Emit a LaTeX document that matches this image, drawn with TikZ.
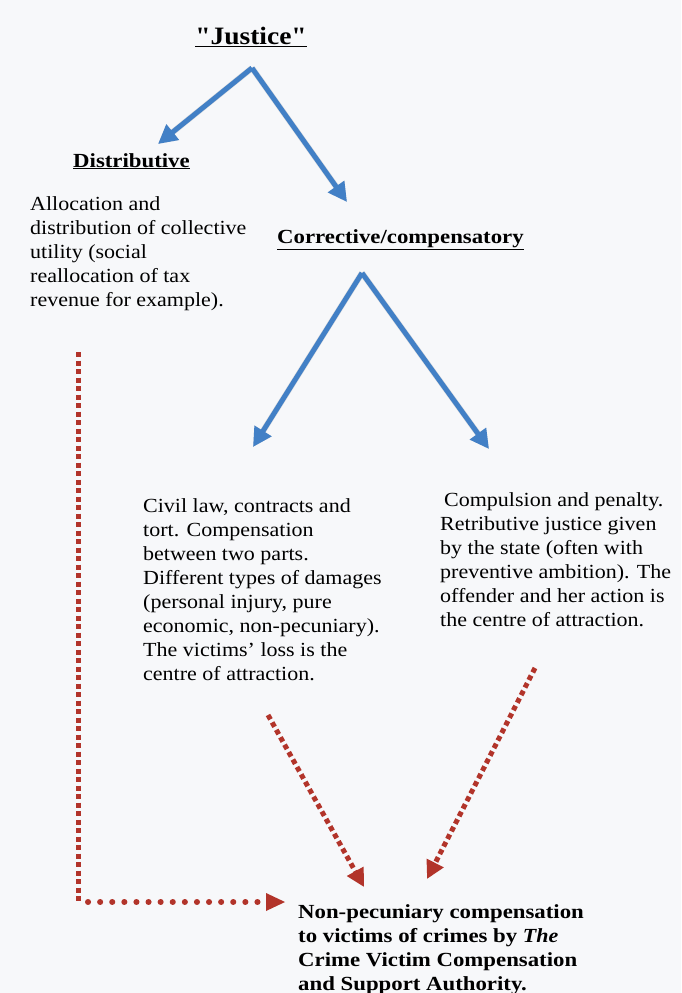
\documentclass[tikz,border=0pt]{standalone}
\usepackage{fontspec}
\setmainfont{Liberation Serif}[UprightFeatures={FakeStretch=1.10}, BoldFeatures={FakeStretch=1.14}, BoldItalicFeatures={FakeStretch=1.10}]
\newfontfamily\titlefont{Liberation Serif}[BoldFeatures={FakeStretch=1.10}]
\usetikzlibrary{arrows.meta}
\definecolor{paper}{RGB}{247,248,250}
\definecolor{bluearr}{RGB}{66,128,198}
\definecolor{redarr}{RGB}{178,52,42}
\tikzset{
  body/.style={anchor=base west, inner sep=0pt, align=left, font=\fontsize{20}{24}\selectfont},
  head/.style={anchor=base west, inner sep=0pt, font=\bfseries\fontsize{20}{24}\selectfont},
  bluearrow/.style={draw=bluearr, line width=5pt, line join=miter, -{Triangle[length=19pt,width=19pt]}},
  blueshadow/.style={draw=black!22, line width=6pt, -{Triangle[length=19pt,width=19pt]}, opacity=0.6},
  reddash/.style={draw=redarr, line width=5pt, dash pattern=on 5pt off 3.5pt, -{Triangle[length=18pt,width=18pt]}},
  reddots/.style={draw=redarr, line width=6pt, line cap=round, dash pattern=on 0.1pt off 12pt},
}
\begin{document}
\begin{tikzpicture}[x=1pt,y=-1pt]
\path[fill=paper] (0,0) rectangle (681,993);
\useasboundingbox (0,0) rectangle (681,993);

% titles
\node[anchor=base, inner sep=0pt, font=\titlefont\bfseries\fontsize{25}{30}\selectfont] (justice) at (251,44) {\underline{"Justice"}};
\node[head] (distr) at (73,167) {\underline{Distributive}};
\node[head] (corr) at (277,243) {\underline{Corrective/compensatory}};

% texts (anchored at the baseline of the last line)
\node[body] (alloc) at (30,306) {Allocation and\\distribution of collective\\utility (social\\reallocation of tax\\revenue for example).};
\node[body] (civil) at (143,680) {Civil law, contracts and\\tort. Compensation\\between two parts.\\Different types of damages\\(personal injury, pure\\economic, non-pecuniary).\\The victims’ loss is the\\centre of attraction.};
\node[body] (compul) at (440,626) {\hspace{4pt}Compulsion and penalty.\\Retributive justice given\\by the state (often with\\preventive ambition). The\\offender and her action is\\the centre of attraction.};
\node[body, font=\bfseries\fontsize{20}{24}\selectfont] (nonpec) at (298,990) {Non-pecuniary compensation\\to victims of crimes by \textit{The}\\Crime Victim Compensation\\and Support Authority.};

% blue arrow coordinates
\coordinate (apexA) at (252,68);
\coordinate (endD) at (158,144);
\coordinate (endC) at (347,202);
\coordinate (apexB) at (362,273);
\coordinate (endL) at (253,447);
\coordinate (endR) at (489,449);

\begin{scope}[shift={(2,2)}]
\draw[blueshadow] (apexA) -- (endD);
\draw[blueshadow] (apexA) -- (endC);
\draw[blueshadow] (apexB) -- (endL);
\draw[blueshadow] (apexB) -- (endR);
\end{scope}
\draw[bluearrow] (apexA) -- (endD);
\draw[bluearrow] (apexA) -- (endC);
\draw[bluearrow] (apexB) -- (endL);
\draw[bluearrow] (apexB) -- (endR);

% red arrows
\coordinate (civilEnd) at (268,715);
\coordinate (compulEnd) at (535,668);
\coordinate (tipM) at (364,887);
\coordinate (tipR) at (427,879);
\coordinate (lTop) at (78,352);
\coordinate (lCorner) at (78,902);
\coordinate (tipL) at (285,902);

\draw[reddash] (civilEnd) -- (tipM);
\draw[reddash] (compulEnd) -- (tipR);
\draw[draw=redarr, line width=5pt, dash pattern=on 5pt off 3.5pt] (lTop) -- (lCorner);
\draw[reddots] ([xshift=10pt]lCorner) -- (265,902);
\fill[redarr] (tipL) -- ++(-19,-9) -- ++(0,18) -- cycle;
\end{tikzpicture}
\end{document}
